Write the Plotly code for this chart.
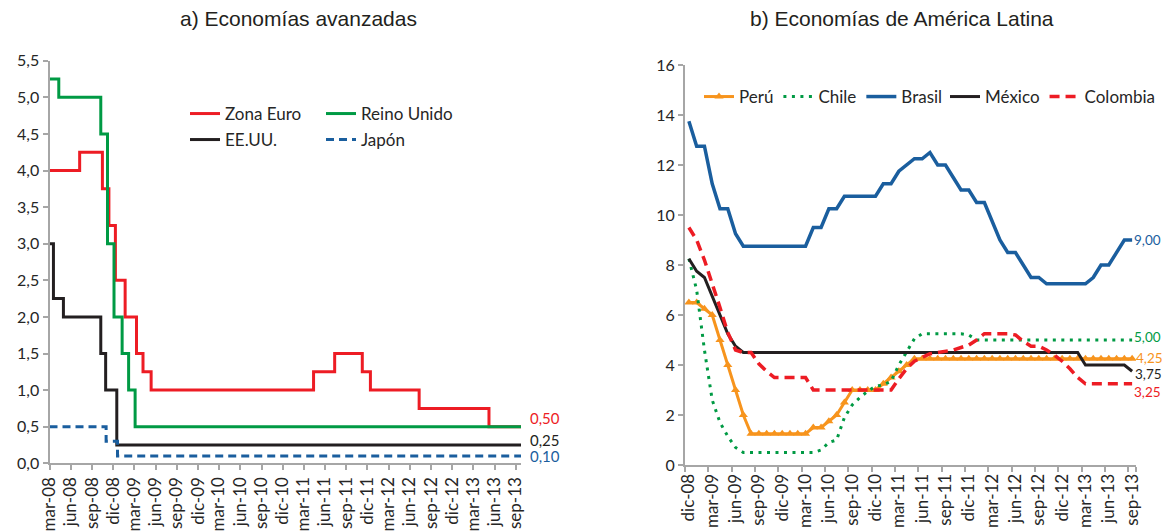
import plotly.graph_objects as go

# the page puts the figure 8 px in from the top-left corner; pixel positions below
# are measured on the full 1170x531 view
OX, OY = 8, 8
W, H = 1170 - OX, 531 - OY


def px(x):
    return (x - OX) / W


def py(y):
    return 1 - (y - OY) / H


# --- a) Economías avanzadas: fechas de cambio de tasa y nivel vigente ---
euro_dates = ['2008-03-01', '2008-07-09', '2008-10-15', '2008-11-12', '2008-12-10', '2009-01-21',
              '2009-03-11', '2009-04-08', '2009-05-13', '2011-04-13', '2011-07-13', '2011-11-09',
              '2011-12-14', '2012-07-11', '2013-05-08', '2013-09-23']
euro_rates = [4.00, 4.25, 3.75, 3.25, 2.50, 2.00, 1.50, 1.25, 1.00, 1.25, 1.50, 1.25, 1.00, 0.75, 0.50, 0.50]

uk_dates = ['2008-03-01', '2008-04-10', '2008-10-08', '2008-11-06', '2008-12-04', '2009-01-08',
            '2009-02-05', '2009-03-05', '2013-09-23']
uk_rates = [5.25, 5.00, 4.50, 3.00, 2.00, 1.50, 1.00, 0.50, 0.50]

us_dates = ['2008-03-01', '2008-03-18', '2008-04-30', '2008-10-08', '2008-10-29', '2008-12-16', '2013-09-23']
us_rates = [3.00, 2.25, 2.00, 1.50, 1.00, 0.25, 0.25]

jp_dates = ['2008-03-01', '2008-10-31', '2008-12-19', '2013-09-23']
jp_rates = [0.50, 0.30, 0.10, 0.10]

# --- b) Economías de América Latina: datos mensuales dic-08 a sep-13 ---
MESES = ['ene', 'feb', 'mar', 'abr', 'may', 'jun', 'jul', 'ago', 'sep', 'oct', 'nov', 'dic']
latam_months = ['dic-08'] + [f'{m}-{y:02d}' for y in range(9, 14) for m in MESES][:57]

peru = [6.5, 6.5, 6.25, 6.0, 5.0, 4.0, 3.0, 2.0, 1.25,
        1.25, 1.25, 1.25, 1.25, 1.25, 1.25, 1.25,
        1.5, 1.5, 1.75, 2.0, 2.5, 3.0,
        3.0, 3.0, 3.0,
        3.25, 3.5, 3.75, 4.0] + [4.25] * 29
chile = [8.25, 7.0, 4.6, 2.6, 1.7, 1.15, 0.7, 0.5,
         0.5, 0.5, 0.5, 0.5, 0.5, 0.5, 0.5, 0.5, 0.5,
         0.6, 0.9, 1.0, 1.9, 2.4, 2.7, 2.95, 3.15, 3.2, 3.35, 4.0, 4.55, 5.05,
         5.25, 5.25, 5.25, 5.25, 5.25, 5.25, 5.2] + [5.0] * 21
brasil = [13.75, 12.75, 12.75, 11.25, 10.25, 10.25, 9.25,
          8.75, 8.75, 8.75, 8.75, 8.75, 8.75, 8.75, 8.75, 8.75,
          9.5, 9.5, 10.25, 10.25,
          10.75, 10.75, 10.75, 10.75, 10.75,
          11.25, 11.25, 11.75, 12.0, 12.25, 12.25, 12.5, 12.0, 12.0, 11.5, 11.0,
          11.0, 10.5, 10.5, 9.75, 9.0, 8.5, 8.5, 8.0, 7.5, 7.5,
          7.25, 7.25, 7.25, 7.25, 7.25, 7.25,
          7.5, 8.0, 8.0, 8.5, 9.0, 9.0]
mexico = [8.25, 7.75, 7.5, 6.75, 6.0, 5.25, 4.75] + [4.5] * 44 + [4.0] * 6 + [3.75]
colombia = [9.5, 9.0, 8.2, 7.3, 6.3, 5.3, 4.6, 4.5, 4.5, 4.05, 3.75,
            3.5, 3.5, 3.5, 3.5, 3.5] + [3.0] * 11 + \
           [3.45, 3.85, 4.15, 4.3, 4.45, 4.5, 4.55, 4.6, 4.7, 4.8, 5.0, 5.25,
            5.25, 5.25, 5.25, 5.2, 4.95, 4.75, 4.75, 4.6, 4.4, 4.15, 3.85, 3.5] + [3.25] * 7

# tick labels del panel a)
left_tickvals = [f'20{y:02d}-{m:02d}-01' for y in range(8, 14) for m in (3, 6, 9, 12)][:23]
left_ticktext = [f'{MESES[m - 1]}-{y:02d}' for y in range(8, 14) for m in (3, 6, 9, 12)][:23]

# --- Estilos ---
RED = '#ED1C24'
GREEN = '#009A44'
BLACK = '#231F20'
BLUE = '#1A5E9E'
ORANGE = '#F7941D'
AXIS_GRAY = '#A6A6A6'
TXT = '#262626'
FONT = 'Lato, sans-serif'

fig = go.Figure()

# Panel a)
fig.add_trace(go.Scatter(x=euro_dates, y=euro_rates, name='Zona Euro', line_shape='hv',
                         line=dict(color=RED, width=3), mode='lines', legend='legend'))
fig.add_trace(go.Scatter(x=uk_dates, y=uk_rates, name='Reino Unido', line_shape='hv',
                         line=dict(color=GREEN, width=3), mode='lines', legend='legend'))
fig.add_trace(go.Scatter(x=us_dates, y=us_rates, name='EE.UU.', line_shape='hv',
                         line=dict(color=BLACK, width=3), mode='lines', legend='legend2'))
fig.add_trace(go.Scatter(x=jp_dates, y=jp_rates, name='Japón', line_shape='hv',
                         line=dict(color=BLUE, width=3, dash='8px,5px'), mode='lines', legend='legend2'))

# Panel b)
fig.add_trace(go.Scatter(x=latam_months, y=peru, name='Perú', mode='lines+markers',
                         line=dict(color=ORANGE, width=3),
                         marker=dict(symbol='triangle-up', size=8, color=ORANGE),
                         xaxis='x2', yaxis='y2', legend='legend3'))
fig.add_trace(go.Scatter(x=latam_months, y=chile, name='Chile', mode='lines',
                         line=dict(color=GREEN, width=3, dash='3px,5.5px'),
                         xaxis='x2', yaxis='y2', legend='legend3'))
fig.add_trace(go.Scatter(x=latam_months, y=brasil, name='Brasil', mode='lines',
                         line=dict(color=BLUE, width=3.5),
                         xaxis='x2', yaxis='y2', legend='legend3'))
fig.add_trace(go.Scatter(x=latam_months, y=mexico, name='México', mode='lines',
                         line=dict(color=BLACK, width=3),
                         xaxis='x2', yaxis='y2', legend='legend4'))
fig.add_trace(go.Scatter(x=latam_months, y=colombia, name='Colombia', mode='lines',
                         line=dict(color=RED, width=3.5, dash='10px,6px'),
                         xaxis='x2', yaxis='y2', legend='legend4'))

axis_common = dict(showline=True, linecolor=AXIS_GRAY, linewidth=2, showgrid=False, zeroline=False,
                   ticks='outside', tickcolor=AXIS_GRAY, ticklen=5, tickwidth=1.5, automargin=False,
                   tickfont=dict(family=FONT, size=16, color=TXT))
xaxis_font = dict(family=FONT, size=17, color=TXT)


def fmt(v):
    return f'{v:.2f}'.replace('.', ',')


title_font = dict(family='Liberation Sans, Arial', size=21, color=BLACK)
annotations = [
    dict(text='a) Economías avanzadas', x=px(298), y=py(18), xref='paper', yref='paper',
         xanchor='center', yanchor='middle', showarrow=False, font=title_font),
    dict(text='b) Economías de América Latina', x=px(902), y=py(18), xref='paper', yref='paper',
         xanchor='center', yanchor='middle', showarrow=False, font=title_font),
]

# etiquetas de valor final
end_labels_left = [(euro_dates[-1], euro_rates[-1], RED, 9),
                   (us_dates[-1], us_rates[-1], BLACK, 5),
                   (jp_dates[-1], jp_rates[-1], BLUE, 0)]
for xv, yv, col, ys in end_labels_left:
    annotations.append(dict(text=fmt(yv), x=xv, y=yv, xref='x', yref='y', xanchor='left',
                            yanchor='middle', xshift=7, yshift=ys, showarrow=False,
                            font=dict(family=FONT, size=15, color=col)))

# a la derecha queda poco espacio: etiquetas algo más chicas y pegadas a la línea
end_labels_right = [(brasil[-1], BLUE, 1, 0), (chile[-1], GREEN, 1, 3), (peru[-1], ORANGE, 3, 1),
                    (mexico[-1], BLACK, 2, -3), (colombia[-1], RED, 1, -8)]
for yv, col, xs, ys in end_labels_right:
    annotations.append(dict(text=fmt(yv), x=latam_months[-1], y=yv, xref='x2', yref='y2',
                            xanchor='left', yanchor='middle', xshift=xs, yshift=ys, showarrow=False,
                            borderpad=0, font=dict(family=FONT, size=13.5, color=col)))

legend_common = dict(orientation='h', font=dict(family=FONT, size=17, color=TXT),
                     bgcolor='rgba(0,0,0,0)', yanchor='middle', xanchor='left', itemwidth=30,
                     tracegroupgap=0)

fig.update_layout(
    width=W, height=H,
    margin=dict(l=0, r=0, t=0, b=0),
    paper_bgcolor='white', plot_bgcolor='white',
    separators=',.',
    font=dict(family=FONT, color=TXT),
    xaxis=dict(axis_common, domain=[px(49.5), px(521)], type='date',
               range=['2008-03-01', '2013-09-23'], tickmode='array', tickfont=xaxis_font,
               tickvals=left_tickvals, ticktext=left_ticktext, tickangle=-90, anchor='y'),
    yaxis=dict(axis_common, domain=[py(463.3), py(60.7)], range=[0, 5.5],
               tickmode='linear', tick0=0, dtick=0.5, tickformat='.1f', anchor='x'),
    xaxis2=dict(axis_common, domain=[px(685), px(1136)], type='category',
                range=[-0.5, len(latam_months) - 0.5], tickmode='array', tickfont=xaxis_font,
                tickvals=latam_months[::3], ticktext=latam_months[::3], tickson='boundaries',
                tickangle=-90, anchor='y2'),
    yaxis2=dict(axis_common, domain=[py(465), py(65)], range=[0, 16],
                tickmode='linear', tick0=0, dtick=2, anchor='x2'),
    legend=dict(legend_common, x=px(185), y=py(114), entrywidth=91),
    legend2=dict(legend_common, x=px(185), y=py(140), entrywidth=91),
    legend3=dict(legend_common, x=px(699), y=py(97)),
    legend4=dict(legend_common, x=px(1161), y=py(97), xanchor='right'),
    annotations=annotations,
)

fig.write_html('out.html')
